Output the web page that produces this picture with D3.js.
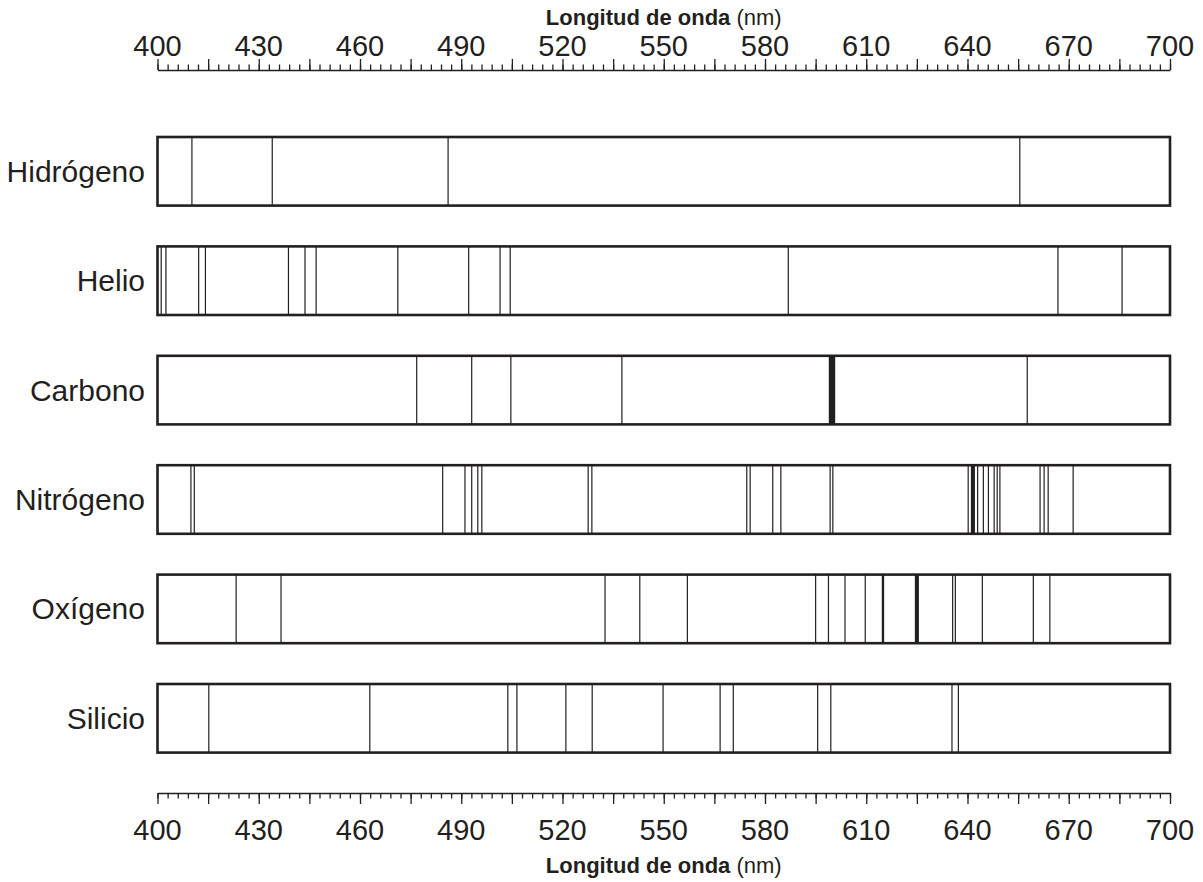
<!DOCTYPE html>
<html>
<head>
<meta charset="utf-8">
<script src="https://cdn.jsdelivr.net/npm/d3@7"></script>
<style>
  body { margin: 0; background: #fff; }
  svg text { font-family: "Liberation Sans", Arial, sans-serif; fill: #231f20; }
</style>
</head>
<body>
<div id="chart"></div>
<script>
const WIDTH = 1203;
const HEIGHT = 882;
const INK = "#231f20";

// Data: emission lines in nm
const elements = ["Hidrógeno", "Helio", "Carbono", "Nitrógeno", "Oxígeno", "Silicio"];

const hydrogenLines = [410.2, 434.0, 486.1, 655.5];
const heliumLines = [401.1, 402.5, 412.2, 414.2, 438.8, 443.7, 447.0, 471.2, 492.2, 501.5, 504.5, 586.9, 666.8, 685.8];
const carbonLines = [476.8, 493.1, 504.7, 537.6, 657.7];
const nitrogenLines = [409.9, 410.9, 484.5, 491.1, 493.1, 494.9, 496.1, 527.6, 528.7, 574.6, 575.6,
                       582.3, 584.7, 599.3, 600.1, 640.2, 643.0, 644.7, 646.2, 647.9, 648.8, 649.6,
                       661.5, 662.7, 663.9, 671.3];
const oxygenLines = [423.3, 436.6, 532.6, 542.9, 557.0, 595.0, 598.8, 603.7, 609.7, 635.6, 636.4,
                     644.4, 659.5, 664.4];
const siliconLines = [415.2, 462.9, 503.8, 506.5, 521.0, 528.8, 549.8, 566.7, 570.6, 595.6, 599.5,
                      635.4, 637.3];

// broad lines as [from, to] nm
const carbonBands = [[598.9, 600.8]];
const nitrogenBands = [[641.0, 642.2]];
const oxygenBands = [[614.6, 615.3], [624.4, 625.6]];

const lineSets = [hydrogenLines, heliumLines, carbonLines, nitrogenLines, oxygenLines, siliconLines];
const bandSets = [[], [], carbonBands, nitrogenBands, oxygenBands, []];

const minorTicks = d3.range(400, 701, 3);
const majorTicks = d3.range(400, 701, 15);
const labelTicks = d3.range(400, 701, 30);
const AXIS_TITLE_BOLD = "Longitud de onda";
const AXIS_TITLE_UNIT = " (nm)";

const svg = d3.select("#chart").append("svg")
    .attr("width", WIDTH)
    .attr("height", HEIGHT);

const x = d3.scaleLinear().domain([400, 700]).range([157.5, 1170]);
const y = d3.scaleBand().domain(elements).range([137, 752.6]).paddingInner(0.373).paddingOuter(0);

// Axes
function drawAxis(yPos, dir) {
    const g = svg.append("g").attr("transform", "translate(0," + yPos + ")");
    const mk = dir < 0 ? d3.axisTop : d3.axisBottom;
    g.append("g")
        .call(mk(x).tickValues(minorTicks).tickSize(5.5).tickSizeOuter(0).tickFormat(""))
        .call(a => a.select(".domain").attr("stroke-width", 1.6));
    g.append("g")
        .call(mk(x).tickValues(majorTicks).tickSize(11).tickSizeOuter(0).tickFormat(""))
        .call(a => a.select(".domain").remove());
    g.selectAll("line").attr("stroke", INK).attr("stroke-width", 1.3);
    g.selectAll(".domain").attr("stroke", INK);

    g.selectAll(".lbl")
        .data(labelTicks)
        .enter()
        .append("text")
        .attr("class", "lbl")
        .attr("x", d => x(d))
        .attr("y", dir < 0 ? -14 : 47)
        .attr("text-anchor", "middle")
        .style("font-size", "29px")
        .text(d => d);

    const t = g.append("text")
        .attr("x", x(550))
        .attr("y", dir < 0 ? -45 : 80)
        .attr("text-anchor", "middle")
        .style("font-size", "22px");
    t.append("tspan").style("font-weight", "bold").text(AXIS_TITLE_BOLD);
    t.append("tspan").text(AXIS_TITLE_UNIT);
}

drawAxis(70, -1);
drawAxis(793, 1);

// Spectra
const rows = svg.selectAll(".row")
    .data(elements)
    .enter()
    .append("g")
    .attr("class", "row")
    .attr("transform", d => "translate(0," + y(d) + ")");

rows.append("text")
    .attr("x", 145)
    .attr("y", y.bandwidth() / 2)
    .attr("dy", "0.35em")
    .attr("text-anchor", "end")
    .style("font-size", "30px")
    .text(d => d);

rows.selectAll(".line")
    .data((d, i) => lineSets[i])
    .enter()
    .append("line")
    .attr("class", "line")
    .attr("x1", d => x(d))
    .attr("x2", d => x(d))
    .attr("y1", 0)
    .attr("y2", y.bandwidth())
    .attr("stroke", INK)
    .attr("stroke-width", 1.2);

rows.selectAll(".band")
    .data((d, i) => bandSets[i])
    .enter()
    .append("rect")
    .attr("class", "band")
    .attr("x", d => x(d[0]))
    .attr("width", d => x(d[1]) - x(d[0]))
    .attr("y", 0)
    .attr("height", y.bandwidth())
    .attr("fill", INK);

rows.append("rect")
    .attr("x", x(400))
    .attr("y", 0)
    .attr("width", x(700) - x(400))
    .attr("height", y.bandwidth())
    .attr("fill", "none")
    .attr("stroke", INK)
    .attr("stroke-width", 2.6);
</script>
</body>
</html>
